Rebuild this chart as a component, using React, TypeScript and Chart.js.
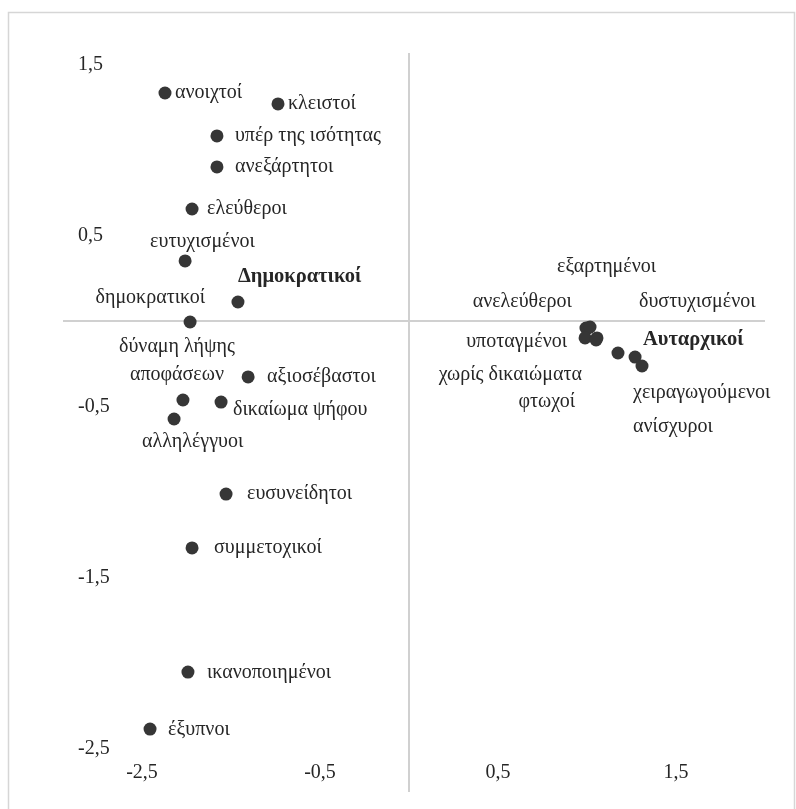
import React, { useEffect, useRef } from "react";
import { Chart, registerables } from "chart.js";

Chart.register(...registerables);

// ---- data ----
const termNames = [
  "ανοιχτοί",
  "κλειστοί",
  "υπέρ της ισότητας",
  "ανεξάρτητοι",
  "ελεύθεροι",
  "ευτυχισμένοι",
  "δημοκρατικοί",
  "δύναμη λήψης\nαποφάσεων",
  "αξιοσέβαστοι",
  "δικαίωμα ψήφου",
  "αλληλέγγυοι",
  "ευσυνείδητοι",
  "συμμετοχικοί",
  "ικανοποιημένοι",
  "έξυπνοι",
  "εξαρτημένοι",
  "ανελεύθεροι",
  "δυστυχισμένοι",
  "υποταγμένοι",
  "χωρίς δικαιώματα",
  "φτωχοί",
  "χειραγωγούμενοι",
  "ανίσχυροι",
];
const termX = [
  -1.371, -0.736, -1.079, -1.079, -1.219, -1.258, -1.23, -1.27, -0.904, -1.056,
  -1.32, -1.028, -1.219, -1.242, -1.455, 1.006, 0.994, 1.017, 0.989, 1.056,
  1.051, 1.27, 1.309,
];
const termY = [
  1.333, 1.269, 1.082, 0.901, 0.655, 0.351, -0.006, -0.462, -0.327, -0.474,
  -0.573, -1.012, -1.327, -2.053, -2.386, -0.041, -0.041, -0.035, -0.099,
  -0.099, -0.111, -0.211, -0.263,
];
const groupNames = ["Δημοκρατικοί", "Αυταρχικοί"];
const groupX = [-0.961, 1.174];
const groupY = [0.111, -0.187];

const yTickValues = [1.5, 0.5, -0.5, -1.5, -2.5];
const yTickLabels = ["1,5", "0,5", "-0,5", "-1,5", "-2,5"];
const xTickValues = [-1.5, -0.5, 0.5, 1.5];
const xTickLabels = ["-2,5", "-0,5", "0,5", "1,5"];

// ---- label placement (layout only) ----
type Place = { dx: number; dy: number; align: CanvasTextAlign };
const termPlace: Place[] = [
  { dx: 10, dy: 0, align: "left" },
  { dx: 10, dy: 0, align: "left" },
  { dx: 18, dy: 0, align: "left" },
  { dx: 18, dy: 0, align: "left" },
  { dx: 15, dy: 0, align: "left" },
  { dx: -35, dy: -19, align: "left" },
  { dx: 15, dy: -24, align: "right" },
  { dx: -6, dy: -53, align: "center" },
  { dx: 19, dy: 0, align: "left" },
  { dx: 12, dy: 8, align: "left" },
  { dx: -32, dy: 23, align: "left" },
  { dx: 21, dy: 0, align: "left" },
  { dx: 22, dy: 0, align: "left" },
  { dx: 19, dy: 1, align: "left" },
  { dx: 18, dy: 1, align: "left" },
  { dx: -31, dy: -61, align: "left" },
  { dx: -14, dy: -26, align: "right" },
  { dx: 49, dy: -25, align: "left" },
  { dx: -18, dy: 4, align: "right" },
  { dx: -15, dy: 37, align: "right" },
  { dx: -21, dy: 62, align: "right" },
  { dx: -2, dy: 36, align: "left" },
  { dx: -9, dy: 61, align: "left" },
];
const groupPlace: Place[] = [
  { dx: 0, dy: -25, align: "left" },
  { dx: 25, dy: -13, align: "left" },
];

const FONT = '"Liberation Serif", "DejaVu Serif", serif';
const TEXT = "#262626";
const AXIS = "#d0d0d0";

const decorations = {
  id: "decorations",
  beforeDraw(chart: any) {
    const ctx = chart.ctx;
    ctx.save();
    ctx.fillStyle = "#ffffff";
    ctx.fillRect(0, 0, chart.width, chart.height);
    ctx.strokeStyle = "#d6d6d6";
    ctx.lineWidth = 1.5;
    ctx.strokeRect(8.5, 12.5, 786, 820);
    ctx.restore();
  },
  beforeDatasetsDraw(chart: any) {
    const { ctx, chartArea, scales } = chart;
    const x0 = scales.x.getPixelForValue(0);
    const y0 = scales.y.getPixelForValue(0);
    ctx.save();
    ctx.strokeStyle = AXIS;
    ctx.lineWidth = 2;
    ctx.beginPath();
    ctx.moveTo(x0, chartArea.top);
    ctx.lineTo(x0, chartArea.bottom);
    ctx.moveTo(chartArea.left, y0);
    ctx.lineTo(chartArea.right, y0);
    ctx.stroke();
    // tick labels
    ctx.fillStyle = TEXT;
    ctx.font = `20px ${FONT}`;
    ctx.textBaseline = "middle";
    ctx.textAlign = "left";
    yTickValues.forEach((v, i) => {
      ctx.fillText(yTickLabels[i], 78, scales.y.getPixelForValue(v));
    });
    ctx.textAlign = "center";
    xTickValues.forEach((v, i) => {
      ctx.fillText(xTickLabels[i], scales.x.getPixelForValue(v), 773);
    });
    ctx.restore();
  },
  afterDatasetsDraw(chart: any) {
    const { ctx, scales } = chart;
    ctx.save();
    ctx.fillStyle = TEXT;
    ctx.textBaseline = "middle";
    const draw = (name: string, x: number, y: number, p: Place, bold: boolean) => {
      ctx.font = bold ? `bold 20.5px ${FONT}` : `20px ${FONT}`;
      ctx.textAlign = p.align;
      const px = scales.x.getPixelForValue(x) + p.dx;
      const py = scales.y.getPixelForValue(y) + p.dy;
      name.split("\n").forEach((line, k) => ctx.fillText(line, px, py + k * 28));
    };
    termNames.forEach((n, i) => draw(n, termX[i], termY[i], termPlace[i], false));
    groupNames.forEach((n, i) => draw(n, groupX[i], groupY[i], groupPlace[i], true));
    ctx.restore();
  },
};

export default function App() {
  const ref = useRef<HTMLCanvasElement | null>(null);
  useEffect(() => {
    document.body.style.margin = "0";
    document.body.style.overflow = "hidden";
    const canvas = ref.current!;
    const chart = new Chart(canvas, {
      type: "scatter",
      data: {
        datasets: [
          {
            label: "terms",
            data: termX.map((x, i) => ({ x, y: termY[i] })),
            backgroundColor: "#363636",
            borderWidth: 0,
            pointRadius: 6.5,
          },
          {
            label: "groups",
            data: groupX.map((x, i) => ({ x, y: groupY[i] })),
            backgroundColor: "#363636",
            borderWidth: 0,
            pointRadius: 6.5,
          },
        ],
      },
      options: {
        responsive: false,
        animation: false,
        devicePixelRatio: 1,
        layout: { padding: { left: 63, right: 31, top: 53, bottom: 17 } },
        scales: {
          x: { type: "linear", min: -1.944, max: 2.0, display: false },
          y: { type: "linear", min: -2.754, max: 1.567, display: false },
        },
        plugins: { legend: { display: false }, tooltip: { enabled: false } },
      },
      plugins: [decorations],
    });
    return () => chart.destroy();
  }, []);
  return (
    <canvas
      ref={ref}
      width={796}
      height={809}
      style={{ display: "block", width: 796, height: 809 }}
    />
  );
}
